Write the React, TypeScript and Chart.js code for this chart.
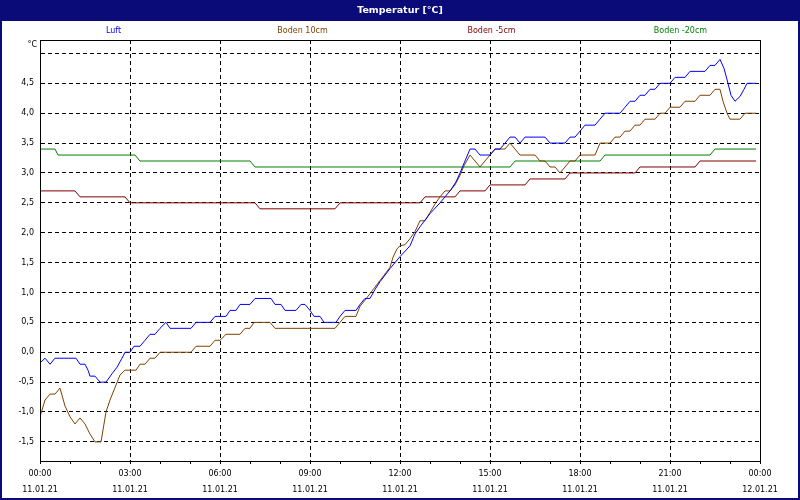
import React, { useEffect, useRef } from 'react';
import { Chart, registerables } from 'chart.js';

Chart.register(...registerables);

const FONT = '"DejaVu Sans", sans-serif';
const NAVY = '#0a0a78';
const TITLE = 'Temperatur [°C]';
const Y_UNIT = '°C';

const seriesNames = ['Luft', 'Boden 10cm', 'Boden -5cm', 'Boden -20cm'];
const seriesColors = ['#0000ff', '#804000', '#800000', '#008000'];

// minutes since 11.01.21 00:00
const luftMin = [0,10,20,30,72,80,90,96,100,110,120,132,144,154,164,170,180,188,200,210,220,230,240,252,260,302,312,340,350,372,380,392,400,420,430,462,470,482,490,512,522,530,540,548,560,568,592,600,610,632,640,650,660,670,680,700,720,740,750,760,780,800,820,832,840,850,860,870,880,900,910,920,930,940,950,960,970,1010,1020,1050,1060,1070,1080,1090,1110,1120,1130,1160,1170,1180,1190,1200,1210,1220,1230,1240,1260,1270,1290,1300,1330,1340,1350,1360,1368,1376,1382,1390,1400,1408,1414,1432];
const luftVal = [-0.18,-0.1,-0.2,-0.1,-0.1,-0.2,-0.2,-0.3,-0.4,-0.4,-0.5,-0.5,-0.36,-0.25,-0.1,0,0,0.1,0.1,0.2,0.3,0.3,0.4,0.5,0.4,0.4,0.5,0.5,0.6,0.6,0.7,0.7,0.8,0.8,0.9,0.9,0.8,0.8,0.7,0.7,0.8,0.8,0.7,0.6,0.6,0.5,0.5,0.6,0.7,0.7,0.8,0.9,0.9,1.05,1.18,1.4,1.6,1.78,1.98,2.1,2.32,2.5,2.7,2.85,3.0,3.2,3.4,3.4,3.3,3.3,3.4,3.4,3.5,3.6,3.6,3.5,3.6,3.6,3.5,3.5,3.6,3.6,3.7,3.8,3.8,3.9,4.0,4.0,4.1,4.2,4.2,4.3,4.3,4.4,4.4,4.5,4.5,4.6,4.6,4.7,4.7,4.8,4.8,4.9,4.75,4.5,4.3,4.2,4.28,4.4,4.5,4.5];

const b10Min = [0,10,20,30,40,50,60,70,80,90,100,110,122,132,140,150,160,170,192,200,210,220,230,240,302,312,340,350,360,372,400,410,420,428,460,470,590,600,610,632,640,650,660,670,680,690,700,706,714,720,730,740,750,760,770,780,790,800,810,820,830,840,848,860,870,880,890,900,910,930,940,950,960,990,1000,1010,1020,1030,1040,1050,1060,1070,1080,1110,1120,1140,1150,1160,1170,1180,1190,1200,1210,1230,1240,1250,1260,1280,1290,1310,1320,1340,1350,1360,1366,1374,1380,1400,1410,1432];
const b10Val = [-1.08,-0.8,-0.7,-0.7,-0.6,-0.9,-1.08,-1.2,-1.1,-1.2,-1.37,-1.5,-1.5,-1.0,-0.8,-0.59,-0.38,-0.3,-0.3,-0.2,-0.2,-0.1,-0.1,0,0,0.1,0.1,0.2,0.2,0.3,0.3,0.4,0.4,0.5,0.5,0.4,0.4,0.5,0.6,0.6,0.77,0.87,0.98,1.09,1.2,1.31,1.42,1.59,1.73,1.78,1.8,1.9,2.02,2.2,2.2,2.34,2.48,2.6,2.7,2.7,2.8,2.96,3.12,3.3,3.2,3.1,3.2,3.3,3.4,3.4,3.5,3.4,3.3,3.3,3.2,3.2,3.1,3.1,3.0,3.1,3.2,3.2,3.3,3.3,3.5,3.5,3.6,3.6,3.7,3.7,3.8,3.8,3.9,3.9,4.0,4.0,4.1,4.1,4.2,4.2,4.3,4.3,4.4,4.4,4.2,4.0,3.9,3.9,4.0,4.0];

const b5Min = [0,70,80,170,180,430,440,590,600,760,770,830,840,890,900,970,980,1050,1060,1190,1200,1310,1320,1432];
const b5Val = [2.7,2.7,2.6,2.6,2.5,2.5,2.4,2.4,2.5,2.5,2.6,2.6,2.7,2.7,2.8,2.8,2.9,2.9,3.0,3.0,3.1,3.1,3.2,3.2];

const b20Min = [0,30,36,190,200,420,430,940,950,1120,1130,1340,1350,1432];
const b20Val = [3.4,3.4,3.3,3.3,3.2,3.2,3.1,3.1,3.2,3.2,3.3,3.3,3.4,3.4];

const yTicks = [-1.5,-1,-0.5,0,0.5,1,1.5,2,2.5,3,3.5,4,4.5,5];
const hourTicks = [0,60,120,180,240,300,360,420,480,540,600,660,720,780,840,900,960,1020,1080,1140,1200,1260,1320,1380,1440];
const timeLabels = ['00:00','03:00','06:00','09:00','12:00','15:00','18:00','21:00','00:00'];
const dateLabels = ['11.01.21','11.01.21','11.01.21','11.01.21','11.01.21','11.01.21','11.01.21','11.01.21','12.01.21'];

const seriesMin = [luftMin, b10Min, b5Min, b20Min];
const seriesVal = [luftVal, b10Val, b5Val, b20Val];

const framePlugin = {
  id: 'frame',
  beforeDraw(chart: any) {
    const { ctx, width, height } = chart;
    ctx.save();
    ctx.fillStyle = '#fff';
    ctx.fillRect(0, 0, width, height);
    ctx.fillStyle = NAVY;
    ctx.fillRect(0, 0, width, 21);
    ctx.textAlign = 'center';
    ctx.textBaseline = 'middle';
    ctx.fillStyle = '#fff';
    ctx.font = `bold 9.5px ${FONT}`;
    ctx.fillText(TITLE, width / 2, 11);
    ctx.font = `8px ${FONT}`;
    seriesNames.forEach((n, i) => {
      ctx.fillStyle = seriesColors[i];
      ctx.fillText(n, 19 + 189 * (i + 0.5), 31);
    });
    ctx.fillStyle = '#000';
    ctx.textAlign = 'right';
    ctx.fillText(Y_UNIT, 37, 45);
    ctx.restore();
  },
  afterDraw(chart: any) {
    const { ctx, chartArea: a, width, height } = chart;
    ctx.save();
    ctx.strokeStyle = '#000';
    ctx.lineWidth = 1;
    ctx.strokeRect(Math.round(a.left) + 0.5, Math.round(a.top) + 0.5, Math.round(a.right - a.left), Math.round(a.bottom - a.top));
    ctx.strokeStyle = NAVY;
    ctx.lineWidth = 2;
    ctx.strokeRect(1, 1, width - 2, height - 2);
    ctx.restore();
  },
};

export default function App() {
  const ref = useRef<HTMLCanvasElement>(null);
  useEffect(() => {
    if (!ref.current) return;
    const chart = new Chart(ref.current, {
      type: 'line',
      data: {
        datasets: seriesNames.map((name, i) => ({
          label: name,
          data: seriesMin[i].map((m, k) => ({ x: m, y: seriesVal[i][k] })),
          borderColor: seriesColors[i],
          backgroundColor: seriesColors[i],
          borderWidth: 1,
          pointRadius: 0,
          tension: 0,
          fill: false,
        })),
      },
      options: {
        animation: false,
        responsive: false,
        devicePixelRatio: 1,
        events: [],
        layout: { padding: { top: 40, right: 40, left: 0, bottom: 0 } },
        plugins: { legend: { display: false }, title: { display: false }, tooltip: { enabled: false } },
        scales: {
          x: {
            type: 'linear',
            min: 0,
            max: 1440,
            afterBuildTicks: (s: any) => { s.ticks = hourTicks.map((v) => ({ value: v })); },
            afterFit: (s: any) => { s.height = 39; },
            ticks: {
              autoSkip: false,
              maxRotation: 0,
              minRotation: 0,
              padding: 2,
              color: '#000',
              font: { family: FONT, size: 8, lineHeight: 2 },
              callback: (v: any) => {
                if (v % 180 !== 0) return '';
                const k = v / 180;
                return [timeLabels[k], dateLabels[k]];
              },
            },
            grid: {
              color: (c: any) => (c.tick && c.tick.value % 180 === 0 && c.tick.value > 0 && c.tick.value < 1440 ? '#000' : 'rgba(0,0,0,0)'),
              lineWidth: 1,
              drawTicks: true,
              tickLength: 3,
              tickColor: '#000',
              tickBorderDash: [],
            },
            border: { display: true, color: '#000', width: 1, dash: [4, 3] },
          },
          y: {
            type: 'linear',
            min: -1.82,
            max: 5.225,
            afterBuildTicks: (s: any) => { s.ticks = yTicks.map((v) => ({ value: v })); },
            afterFit: (s: any) => { s.width = 40; },
            ticks: {
              color: '#000',
              padding: 6,
              font: { family: FONT, size: 8 },
              callback: (v: any) => (v === 5 ? '' : Number(v).toFixed(1).replace('.', ',')),
            },
            grid: { color: '#000', lineWidth: 1, drawTicks: false },
            border: { display: true, color: '#000', width: 1, dash: [4, 3] },
          },
        },
      },
      plugins: [framePlugin],
    } as any);
    return () => chart.destroy();
  }, []);
  return (
    <div style={{ position: 'fixed', left: 0, top: 0, width: 800, height: 500 }}>
      <canvas ref={ref} width={800} height={500} style={{ display: 'block' }} />
    </div>
  );
}
